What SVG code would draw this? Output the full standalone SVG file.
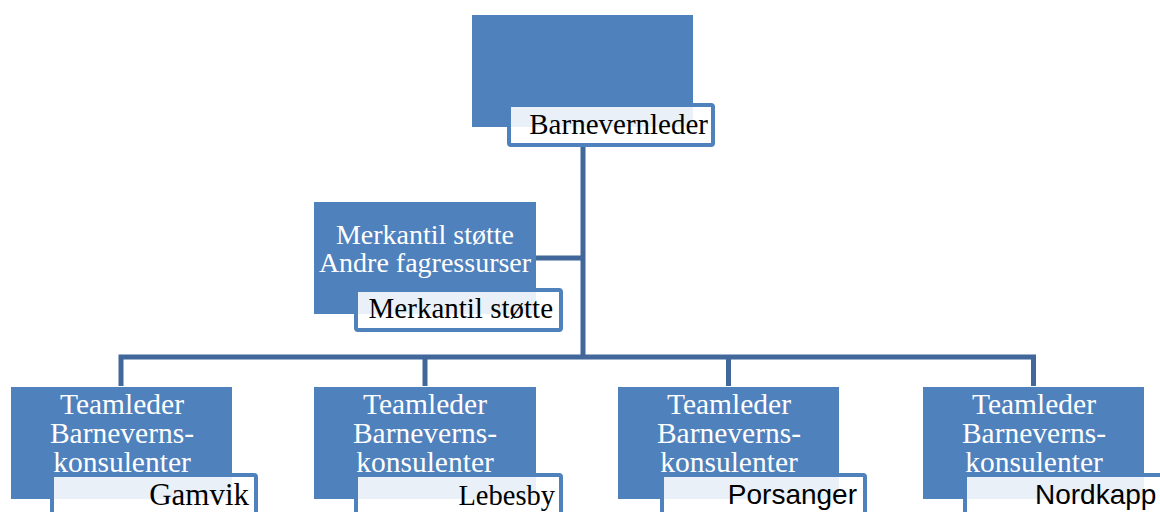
<svg xmlns="http://www.w3.org/2000/svg" width="1160" height="512" viewBox="0 0 1160 512">
<style>
.box{fill:#4f81bd}
.lbl{fill:#ffffff;fill-opacity:0.88;stroke:#4f81bd;stroke-width:4}
.wt{font-family:"Liberation Serif","Times New Roman",serif;font-size:28px;fill:#ffffff;text-anchor:middle}
.tl{font-size:29.5px}
.bt{font-family:"Liberation Serif","Times New Roman",serif;font-size:29px;fill:#000000;text-anchor:end}
.st{font-family:"Liberation Sans",Arial,sans-serif;font-size:28px;fill:#000000}
.con{stroke:#41679b;stroke-width:5;fill:none}
</style>
<rect width="1160" height="512" fill="#ffffff"/>
<g id="connectors">
<line class="con" x1="583" y1="147" x2="583" y2="357"/>
<line class="con" x1="536" y1="258" x2="583" y2="258"/>
<polyline class="con" points="121,386 121,357 1033.5,357 1033.5,386"/>
<line class="con" x1="425" y1="357" x2="425" y2="386"/>
<line class="con" x1="728.5" y1="357" x2="728.5" y2="386"/>
</g>
<g id="barnevernleder">
<rect class="box" x="472" y="15" width="221" height="112"/>
<rect class="lbl" x="509" y="105" width="204" height="40" rx="2"/>
<text class="bt" x="708" y="134">Barnevernleder</text>
</g>
<g id="merkantil">
<rect class="box" x="314" y="202" width="222" height="112"/>
<text class="wt" x="425" y="244">Merkantil støtte</text>
<text class="wt" x="425" y="272">Andre fagressurser</text>
<rect class="lbl" x="356" y="290" width="205" height="40" rx="2"/>
<text class="bt" x="553" y="318">Merkantil støtte</text>
</g>
<g id="gamvik">
<rect class="box" x="11" y="387" width="221" height="112"/>
<text class="wt tl" x="122" y="414">Teamleder</text>
<text class="wt tl" x="122" y="443">Barneverns-</text>
<text class="wt tl" x="122" y="472">konsulenter</text>
<rect class="lbl" x="52" y="475" width="204" height="44" rx="2"/>
<text class="bt" x="249" y="505" style="font-size:31px">Gamvik</text>
</g>
<g id="lebesby">
<rect class="box" x="314" y="387" width="222" height="112"/>
<text class="wt tl" x="425" y="414">Teamleder</text>
<text class="wt tl" x="425" y="443">Barneverns-</text>
<text class="wt tl" x="425" y="472">konsulenter</text>
<rect class="lbl" x="356" y="475" width="205" height="44" rx="2"/>
<text class="bt" x="555" y="505" style="font-size:28.5px">Lebesby</text>
</g>
<g id="porsanger">
<rect class="box" x="618" y="387" width="221" height="112"/>
<text class="wt tl" x="729" y="414">Teamleder</text>
<text class="wt tl" x="729" y="443">Barneverns-</text>
<text class="wt tl" x="729" y="472">konsulenter</text>
<rect class="lbl" x="662" y="475" width="203" height="44" rx="2"/>
<text class="st" x="857" y="504" text-anchor="end">Porsanger</text>
</g>
<g id="nordkapp">
<rect class="box" x="923" y="387" width="221" height="112"/>
<text class="wt tl" x="1034" y="414">Teamleder</text>
<text class="wt tl" x="1034" y="443">Barneverns-</text>
<text class="wt tl" x="1034" y="472">konsulenter</text>
<rect class="lbl" x="965" y="475" width="205" height="44" rx="2"/>
<text class="st" x="1035" y="504">Nordkapp</text>
</g>
</svg>
